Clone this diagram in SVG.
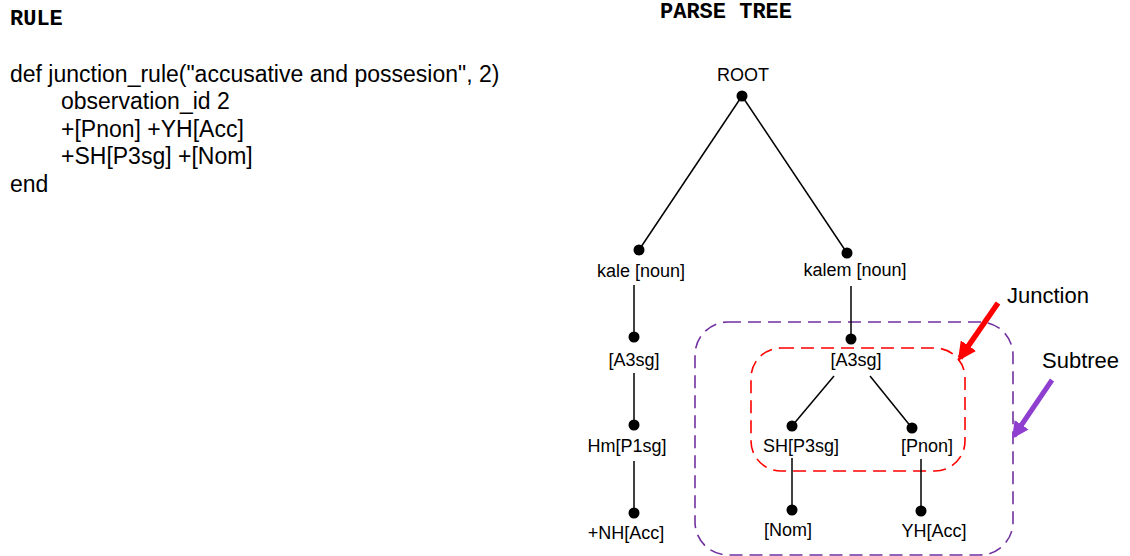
<svg xmlns="http://www.w3.org/2000/svg" width="1130" height="556" viewBox="0 0 1130 556">
  <style>
    .title { font-family: "Liberation Mono", "Courier New", monospace; font-weight: bold; font-size: 22px; fill: #000; }
    .code { font-family: "Liberation Sans", Arial, sans-serif; font-size: 23px; fill: #000; }
    .lbl { font-family: "Liberation Sans", Arial, sans-serif; font-size: 18px; fill: #000; text-anchor: middle; }
    .note { font-family: "Liberation Sans", Arial, sans-serif; font-size: 22px; fill: #000; }
    .edge { stroke: #000; stroke-width: 1.5; fill: none; }
    .dot { fill: #000; }
    .subtree { fill: none; stroke: #7030A0; stroke-width: 1.6; stroke-dasharray: 13 7; }
    .junction { fill: none; stroke: #FF0000; stroke-width: 1.6; stroke-dasharray: 13 7; }
  </style>
  <defs>
    <marker id="headRed" viewBox="0 0 10 10" refX="8" refY="5" markerWidth="3.4" markerHeight="3.4" orient="auto" markerUnits="strokeWidth">
      <path d="M0,0 L10,5 L0,10 Z" fill="#FF0000"/>
    </marker>
    <marker id="headPurple" viewBox="0 0 10 10" refX="8" refY="5" markerWidth="3.4" markerHeight="3.4" orient="auto" markerUnits="strokeWidth">
      <path d="M0,0 L10,5 L0,10 Z" fill="#8E3FD0"/>
    </marker>
  </defs>

  <rect width="1130" height="556" fill="#fff"/>

  <!-- rule definition -->
  <g id="rule">
    <text class="title" x="10" y="25">RULE</text>
    <text class="code" x="10" y="82">def junction_rule("accusative and possesion", 2)</text>
    <text class="code" x="61" y="109">observation_id 2</text>
    <text class="code" x="61" y="137">+[Pnon] +YH[Acc]</text>
    <text class="code" x="61" y="164">+SH[P3sg] +[Nom]</text>
    <text class="code" x="10" y="192">end</text>
  </g>

  <text class="title" x="726" y="18" text-anchor="middle">PARSE TREE</text>

  <!-- highlight regions -->
  <g id="subtree-box">
    <rect class="subtree" x="695" y="322" width="318" height="233" rx="33" ry="33"/>
  </g>
  <g id="junction-box">
    <rect class="junction" x="751" y="348" width="214" height="123" rx="30" ry="30"/>
  </g>

  <!-- edges -->
  <g id="connectors">
    <line class="edge" x1="742" y1="96" x2="639" y2="250"/>
    <line class="edge" x1="742" y1="96" x2="847" y2="253"/>
    <line class="edge" x1="634" y1="285" x2="634" y2="337"/>
    <line class="edge" x1="634" y1="373" x2="634" y2="425"/>
    <line class="edge" x1="634" y1="461" x2="634" y2="513"/>
    <line class="edge" x1="851" y1="286" x2="851" y2="339"/>
    <line class="edge" x1="834" y1="376" x2="792" y2="426"/>
    <line class="edge" x1="870" y1="376" x2="912" y2="428"/>
    <line class="edge" x1="792" y1="458" x2="792" y2="510"/>
    <line class="edge" x1="921" y1="459" x2="921" y2="511"/>
    <line x1="998" y1="303" x2="960" y2="358" stroke="#FF0000" stroke-width="5.5" marker-end="url(#headRed)"/>
    <line x1="1052" y1="380" x2="1014" y2="436" stroke="#8E3FD0" stroke-width="5" marker-end="url(#headPurple)"/>
  </g>

  <!-- tree nodes -->
  <g id="n-root">
    <text class="lbl" x="743" y="81">ROOT</text>
    <circle class="dot" cx="742" cy="96" r="5.5"/>
  </g>
  <g id="n-kale">
    <circle class="dot" cx="639" cy="250" r="5.5"/>
    <text class="lbl" x="641" y="277">kale [noun]</text>
  </g>
  <g id="n-kalem">
    <circle class="dot" cx="847" cy="253" r="5.5"/>
    <text class="lbl" x="855" y="276">kalem [noun]</text>
  </g>
  <g id="n-a3sg-left">
    <circle class="dot" cx="634" cy="337" r="5.5"/>
    <text class="lbl" x="634" y="366">[A3sg]</text>
  </g>
  <g id="n-hm">
    <circle class="dot" cx="634" cy="425" r="5.5"/>
    <text class="lbl" x="627" y="452">Hm[P1sg]</text>
  </g>
  <g id="n-nh">
    <circle class="dot" cx="634" cy="513" r="5.5"/>
    <text class="lbl" x="626" y="539">+NH[Acc]</text>
  </g>
  <g id="n-a3sg-right">
    <circle class="dot" cx="851" cy="339" r="5.5"/>
    <text class="lbl" x="856" y="366">[A3sg]</text>
  </g>
  <g id="n-sh">
    <circle class="dot" cx="792" cy="426" r="5.5"/>
    <text class="lbl" x="801" y="452">SH[P3sg]</text>
  </g>
  <g id="n-pnon">
    <circle class="dot" cx="912" cy="428" r="5.5"/>
    <text class="lbl" x="927" y="452">[Pnon]</text>
  </g>
  <g id="n-nom">
    <circle class="dot" cx="792" cy="510" r="5.5"/>
    <text class="lbl" x="788" y="536">[Nom]</text>
  </g>
  <g id="n-yh">
    <circle class="dot" cx="921" cy="511" r="5.5"/>
    <text class="lbl" x="934" y="537">YH[Acc]</text>
  </g>

  <!-- annotations -->
  <g id="label-junction">
    <text class="note" x="1007" y="303">Junction</text>
  </g>
  <g id="label-subtree">
    <text class="note" x="1042" y="368">Subtree</text>
  </g>
</svg>
